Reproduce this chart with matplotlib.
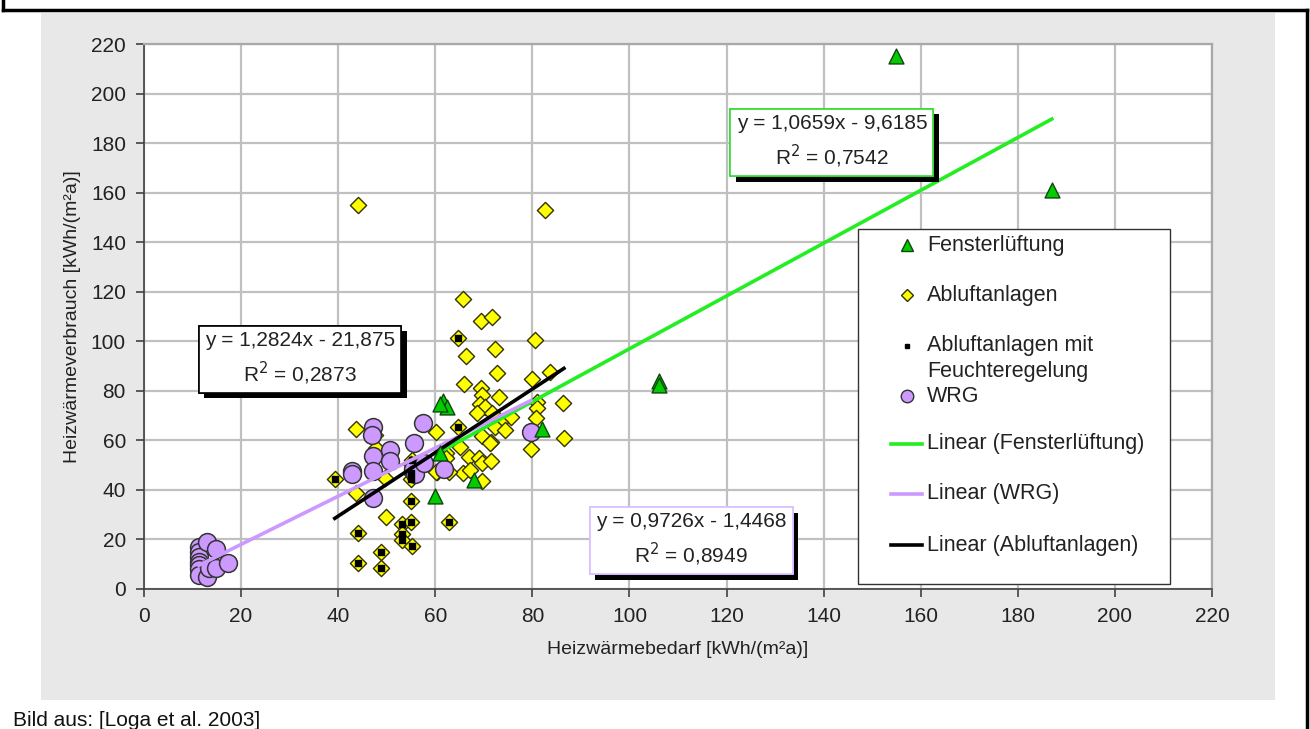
import numpy as np
import matplotlib.pyplot as plt
from matplotlib.lines import Line2D
from matplotlib.patches import Rectangle
from matplotlib import patheffects

plt.rcParams['font.family'] = ['Liberation Sans', 'DejaVu Sans']

# Fensterlüftung
fen_x = [155, 187, 106, 106, 61.5, 62.5, 61, 82, 60, 68, 61]
fen_y = [215, 161, 84, 82.5, 76, 73.5, 74.5, 64.5, 37.5, 44, 55]

# Abluftanlagen
abl_x = [44, 82.5, 65.7, 69.4, 71.6, 80.5, 66.3, 72.3, 72.7, 65.9, 69.4, 69.6,
         73.1, 79.9, 83.6, 86.3, 86.5, 69.2, 70.2, 68.6, 71.7, 75.6, 73.3, 72.3,
         74.4, 69.6, 71.5, 80.9, 81.0, 80.7, 79.7, 60.1, 65.1, 66.9, 69.0, 69.6,
         71.5, 62.0, 60.3, 65.7, 67.1, 69.6, 62.8, 43.7, 47.6, 47.8, 49.6, 43.7,
         49.8, 62.2, 62.2, 60.1, 71.3, 64.7, 64.7, 39.3, 55.0, 55.0, 55.0, 62.8,
         53.1, 55.0, 53.1, 53.1, 55.2, 44.0, 48.8, 44.0, 48.8, 55.2, 55.0]
abl_y = [155, 153, 117, 108, 110, 100.5, 94, 97, 87.2, 82.8, 81.1, 78.3,
         77.5, 84.8, 87.6, 75, 61, 74.7, 73.5, 71, 71, 69.4, 67.4, 65.4,
         64.2, 61.8, 59.3, 75.5, 73, 69, 56.5, 63.4, 57.5, 53.3, 53, 51,
         51.7, 53.3, 47.2, 46.8, 48, 43.6, 47.2, 64.6, 62.2, 57, 44.8, 38.8,
         29, 55, 53, 47.2, 59, 101.3, 65.2, 44.4, 44.4, 46.8, 35.5, 27,
         26.2, 27, 22.2, 19.8, 17.4, 22.6, 15, 10.4, 8.5, 52, 50.5]

# Abluftanlagen mit Feuchteregelung
feu_x = [64.7, 64.7, 39.3, 55.0, 55.0, 55.0, 62.8, 53.1, 55.0, 53.1, 53.1,
         55.2, 44.0, 48.8, 44.0, 48.8, 55.2]
feu_y = [101.3, 65.2, 44.4, 44.4, 46.8, 35.5, 27, 26.2, 27, 22.2, 19.8,
         17.4, 22.6, 15, 10.4, 8.5, 52]

# WRG
wrg_x = [11.3, 11.3, 11.3, 11.3, 11.3, 11.3, 11.3, 13.0, 13.0, 13.3, 14.8,
         14.8, 17.3, 42.8, 42.8, 47.2, 47.2, 47.2, 47.2, 47.0, 50.7, 50.7,
         55.6, 55.4, 55.8, 57.5, 57.7, 61.8, 79.7]
wrg_y = [17, 15, 13, 11, 9.5, 8, 5.6, 19, 4.9, 8.3, 16, 8.5, 10.5, 47.6, 46.6,
         65.4, 53.7, 47.6, 36.7, 62, 56, 51.7, 59, 48.4, 46.4, 67, 51, 48.4,
         63.4]

# Trendlinien: Steigung, Achsenabschnitt, R², Bereich
fen_fit = (1.0659, -9.6185, 0.7542, 60, 187)
wrg_fit = (0.9726, -1.4468, 0.8949, 11.3, 79.7)
abl_fit = (1.2824, -21.875, 0.2873, 39.3, 86.5)

green = '#22EE22'
purple = '#CC99FF'
yellow = '#FFFF00'
txtcol = '#222222'

W, H = 1310, 729
fig = plt.figure(figsize=(W / 100, H / 100), dpi=100)

# grauer Hintergrund und Rahmen
fig.patches.append(Rectangle((41 / W, 1 - 700 / H), (1275 - 41) / W, 687 / H,
                             transform=fig.transFigure, facecolor='#E8E8E8',
                             edgecolor='none', zorder=-2))
for xs, ys in [([3, 3], [0, 10]), ([3, 1307], [10, 10]), ([1307, 1307], [10, 729])]:
    fig.add_artist(Line2D([x / W for x in xs], [1 - y / H for y in ys],
                          color='black', lw=2.5, transform=fig.transFigure))

ax = fig.add_axes([144 / W, 1 - 589 / H, 1068 / W, 545 / H])
ax.set_facecolor('white')
ax.set_xlim(0, 220)
ax.set_ylim(0, 220)
ax.set_xticks(np.arange(0, 221, 20))
ax.set_yticks(np.arange(0, 221, 20))
ax.grid(True, color='#C0C0C0', lw=1.6)
ax.set_axisbelow(True)
for s in ['top', 'right']:
    ax.spines[s].set_color('#A8A8A8')
    ax.spines[s].set_linewidth(1.6)
for s in ['left', 'bottom']:
    ax.spines[s].set_color('#404040')
    ax.spines[s].set_linewidth(1.2)
ax.tick_params(direction='out', length=6, width=1.2, color='#404040',
               labelsize=15, labelcolor=txtcol, pad=7)
ax.set_xlabel('Heizwärmebedarf [kWh/(m²a)]', fontsize=14, color=txtcol, labelpad=11)
ax.set_ylabel('Heizwärmeverbrauch [kWh/(m²a)]', fontsize=14, color=txtcol, labelpad=7)

# Punkte
ax.scatter(abl_x, abl_y, marker='D', s=68, c=yellow, edgecolors='#333300',
           linewidths=1.0, zorder=3)
ax.scatter(feu_x, feu_y, marker='s', s=22, c='black', zorder=4)
ax.scatter(wrg_x, wrg_y, marker='o', s=165, c=purple, edgecolors='#333333',
           linewidths=1.1, zorder=3)
ax.scatter(fen_x, fen_y, marker='^', s=115, c='#00CC00', edgecolors='#114411',
           linewidths=1.0, zorder=5)

# Trendlinien
for (m, b, r2, x0, x1), col in [(fen_fit, green), (wrg_fit, purple), (abl_fit, 'black')]:
    xx = np.array([x0, x1])
    ax.plot(xx, m * xx + b, color=col, lw=2.6, zorder=4)


def fmt(v, n):
    return f'{v:.{n}f}'.replace('.', ',')


def eq_box(x, y, fit, edge, nb):
    m, b, r2 = fit[:3]
    sign = '-' if b < 0 else '+'
    txt = (f'y = {fmt(m, 4)}x {sign} {fmt(abs(b), nb)}\n'
           f'R$^2$ = {fmt(r2, 4)}')
    t = ax.text(x, y, txt, fontsize=15, ha='center', va='center',
                multialignment='center', linespacing=1.45, zorder=6, color=txtcol,
                bbox=dict(boxstyle='square,pad=0.3', facecolor='white',
                          edgecolor=edge, lw=1.2))
    t.get_bbox_patch().set_path_effects([
        patheffects.withSimplePatchShadow(offset=(4, -4), shadow_rgbFace='black', alpha=1),
        patheffects.Normal()])


eq_box(141.7, 180.5, fen_fit, '#33DD33', 4)
eq_box(32.1, 93, abl_fit, 'black', 3)
eq_box(112.7, 19.8, wrg_fit, '#D8C0FF', 4)

# Legende
fig.patches.append(Rectangle((858 / W, 1 - 584 / H), 312 / W, 355 / H,
                             transform=fig.transFigure, facecolor='white',
                             edgecolor='#333333', lw=1.0, zorder=5))
tx = 927 / W
entries = [
    ('Fensterlüftung', 245, dict(marker='^', ms=8, mfc='#00CC00', mec='#114411', ls='none')),
    ('Abluftanlagen', 295, dict(marker='D', ms=6.5, mfc=yellow, mec='#333300', ls='none')),
    ('Abluftanlagen mit\nFeuchteregelung', 346, dict(marker='s', ms=3.5, mfc='black', mec='black', ls='none')),
    ('WRG', 396, dict(marker='o', ms=9, mfc=purple, mec='#333333', ls='none')),
    ('Linear (Fensterlüftung)', 444, dict(color=green, lw=2.6)),
    ('Linear (WRG)', 494, dict(color=purple, lw=2.6)),
    ('Linear (Abluftanlagen)', 545, dict(color='black', lw=2.6)),
]
for label, py, style in entries:
    yy = 1 - py / H
    if 'marker' in style:
        fig.add_artist(Line2D([907 / W], [yy], transform=fig.transFigure, zorder=6, **style))
    else:
        fig.add_artist(Line2D([891 / W, 922 / W], [yy, yy], transform=fig.transFigure,
                              zorder=6, **style))
    if '\n' in label:
        fig.text(tx, yy + 11 / H, label, fontsize=15.5, color=txtcol, va='top',
                 linespacing=1.3, zorder=7)
    else:
        fig.text(tx, yy, label, fontsize=15.5, color=txtcol, va='center', zorder=7)

fig.text(13 / W, 1 - 721 / H, 'Bild aus: [Loga et al. 2003]', fontsize=15,
         va='center', color='#111111')

fig.savefig('out.png', dpi=100)
